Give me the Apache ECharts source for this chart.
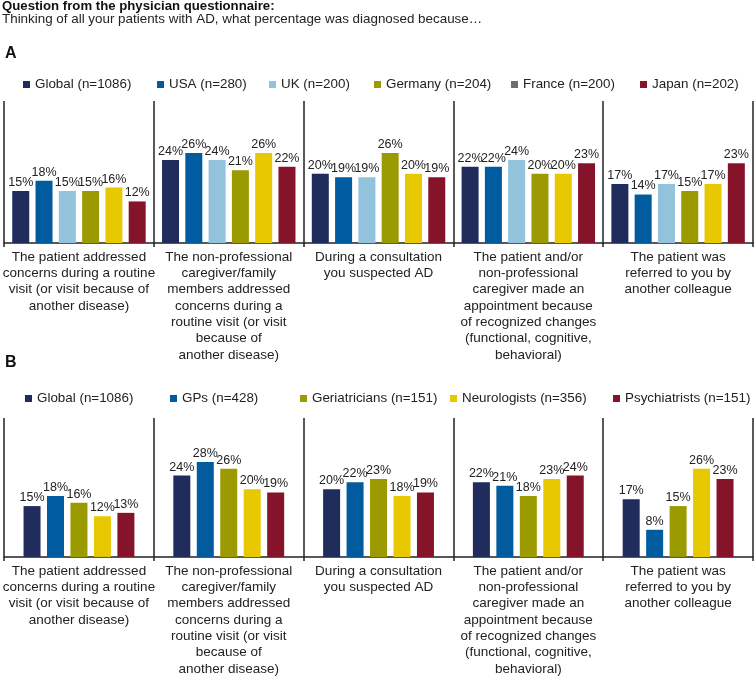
<!DOCTYPE html>
<html>
<head>
<meta charset="utf-8">
<script src="https://cdn.jsdelivr.net/npm/echarts@6/dist/echarts.min.js"></script>
<style>html,body{margin:0;padding:0;background:#fff;}#c{width:755px;height:677px;}</style>
</head>
<body>
<div id="c"></div>
<script>
var categories = [
  "The patient addressed\nconcerns during a routine\nvisit (or visit because of\nanother disease)",
  "The non-professional\ncaregiver/family\nmembers addressed\nconcerns during a\nroutine visit (or visit\nbecause of\nanother disease)",
  "During a consultation\nyou suspected AD",
  "The patient and/or\nnon-professional\ncaregiver made an\nappointment because\nof recognized changes\n(functional, cognitive,\nbehavioral)",
  "The patient was\nreferred to you by\nanother colleague"
];

var namesA = ["Global (n=1086)", "USA (n=280)", "UK (n=200)", "Germany (n=204)", "France (n=200)", "Japan (n=202)"];
var globalA  = [15, 24, 20, 22, 17];
var usaA     = [18, 26, 19, 22, 14];
var ukA      = [15, 24, 19, 24, 17];
var germanyA = [15, 21, 26, 20, 15];
var franceA  = [16, 26, 20, 20, 17];
var japanA   = [12, 22, 19, 23, 23];

var namesB = ["Global (n=1086)", "GPs (n=428)", "Geriatricians (n=151)", "Neurologists (n=356)", "Psychiatrists (n=151)"];
var globalB        = [15, 24, 20, 22, 17];
var gpsB           = [18, 28, 22, 21, 8];
var geriatriciansB = [16, 26, 23, 18, 15];
var neurologistsB  = [12, 20, 18, 23, 26];
var psychiatristsB = [13, 19, 19, 24, 23];

var colorsA = ["#1f2c5c", "#005b9f", "#93c2dc", "#9b9a00", "#e8c800", "#85142b"];
var legendColorsA = ["#1f2c5c", "#005b9f", "#93c2dc", "#9b9a00", "#6e6e6e", "#85142b"];
var colorsB = ["#1f2c5c", "#005b9f", "#9b9a00", "#e8c800", "#85142b"];

var FONT = "'Liberation Sans', Arial, sans-serif";
var lineCol = "#222";

var dataA = [globalA, usaA, ukA, germanyA, franceA, japanA];
var dataB = [globalB, gpsB, geriatriciansB, neurologistsB, psychiatristsB];

var legendXA = [18, 152, 264, 369, 506, 635];
var legendXB = [20, 165, 295, 445, 608];

function makeAxis(gi) {
  return {
    type: "category", gridIndex: gi, data: categories, boundaryGap: true,
    axisLine: {show: true, lineStyle: {color: lineCol, width: 1.5}},
    axisTick: {show: true, interval: 0, length: 4, lineStyle: {color: lineCol, width: 1.5}},
    splitLine: {show: true, interval: 0, lineStyle: {color: lineCol, width: 1.5}},
    axisLabel: {interval: 0, fontSize: 13.5, lineHeight: 16.3, color: "#222", margin: 6, fontFamily: FONT, verticalAlign: "top"}
  };
}

var series = [];
var legends = [];
namesA.forEach(function (n, i) {
  series.push({
    name: n, type: "bar", xAxisIndex: 0, yAxisIndex: 0, data: dataA[i],
    barWidth: 17, barGap: "37%",
    itemStyle: {color: colorsA[i]},
    label: {show: true, position: "top", distance: 2, formatter: "{c}%", fontSize: 12.5, color: "#222", fontFamily: FONT}
  });
  legends.push({
    left: legendXA[i], top: 73, itemWidth: 7, itemHeight: 7, icon: "rect", itemGap: 0,
    selectedMode: false, textStyle: {fontSize: 13.4, color: "#222", fontFamily: FONT},
    data: [{name: n, itemStyle: {color: legendColorsA[i]}}]
  });
});
namesB.forEach(function (n, i) {
  series.push({
    name: n, type: "bar", xAxisIndex: 1, yAxisIndex: 1, data: dataB[i],
    barWidth: 17, barGap: "38%",
    itemStyle: {color: colorsB[i]},
    label: {show: true, position: "top", distance: 2, formatter: "{c}%", fontSize: 12.5, color: "#222", fontFamily: FONT}
  });
  legends.push({
    left: legendXB[i], top: 387, itemWidth: 7, itemHeight: 7, icon: "rect", itemGap: 0,
    selectedMode: false, textStyle: {fontSize: 13.4, color: "#222", fontFamily: FONT},
    data: [{name: n, itemStyle: {color: colorsB[i]}}]
  });
});

var chart = echarts.init(document.getElementById("c"), null, {renderer: "canvas"});
chart.setOption({
  animation: false,
  backgroundColor: "#fff",
  textStyle: {fontFamily: FONT},
  graphic: [
    {type: "text", left: 2, top: 0, style: {text: "Question from the physician questionnaire:", font: "bold 13.2px " + FONT, fill: "#111"}},
    {type: "text", left: 2, top: 13, style: {text: "Thinking of all your patients with AD, what percentage was diagnosed because\u2026", font: "13.4px " + FONT, fill: "#222"}},
    {type: "text", left: 5, top: 46, style: {text: "A", font: "bold 16px " + FONT, fill: "#111"}},
    {type: "text", left: 5, top: 355, style: {text: "B", font: "bold 16px " + FONT, fill: "#111"}}
  ],
  legend: legends,
  grid: [
    {left: 2, right: 2, top: 101, height: 142, containLabel: false},
    {left: 2, right: 2, top: 418, height: 144, containLabel: false}
  ],
  xAxis: [makeAxis(0), makeAxis(1)],
  yAxis: [
    {type: "value", gridIndex: 0, min: 0, max: 41, show: false, splitLine: {show: false}},
    {type: "value", gridIndex: 1, min: 0, max: 41, show: false, splitLine: {show: false}}
  ],
  series: series
});
</script>
</body>
</html>
